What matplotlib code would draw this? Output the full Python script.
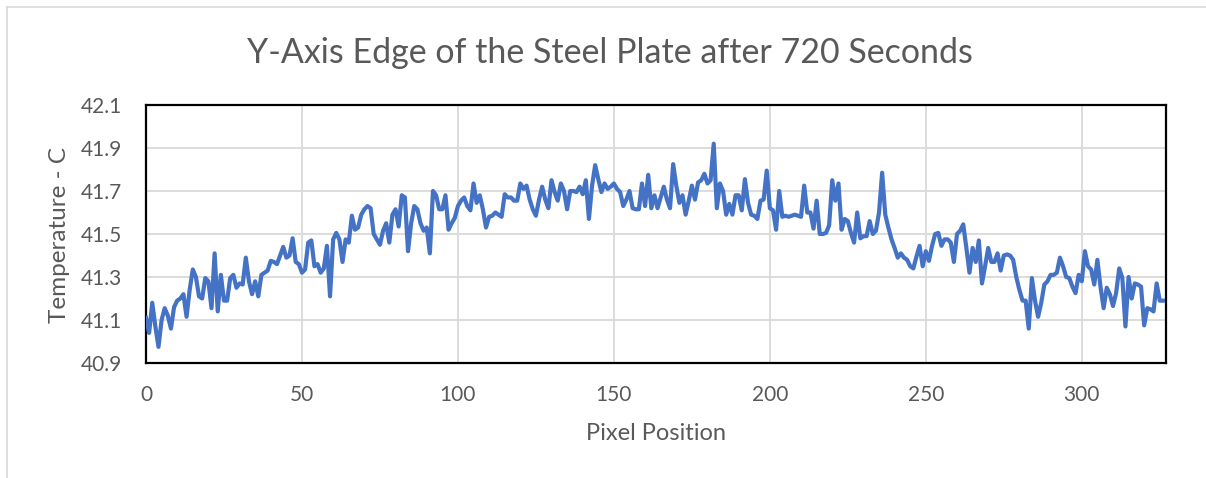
import numpy as np
import matplotlib.pyplot as plt
from matplotlib.lines import Line2D

# temperature readings along the Y-axis edge, one per pixel (0..326)
temps_000 = [41.11, 41.04, 41.18, 41.07, 40.975, 41.10, 41.155, 41.12, 41.06, 41.16,
             41.19, 41.20, 41.22, 41.115, 41.24, 41.335, 41.30, 41.21, 41.20, 41.295,
             41.28, 41.155, 41.41, 41.14, 41.31, 41.19, 41.19, 41.295, 41.31, 41.25,
             41.27, 41.265, 41.39, 41.28, 41.22, 41.28, 41.21, 41.31, 41.32, 41.33,
             41.375, 41.37, 41.36, 41.40, 41.44, 41.39, 41.40, 41.48, 41.37, 41.36,
             41.32, 41.335, 41.46, 41.47, 41.35, 41.36]
temps_056 = [41.32, 41.34, 41.445, 41.21, 41.475, 41.505, 41.475, 41.37, 41.475, 41.46,
             41.585, 41.52, 41.53, 41.59, 41.615, 41.63, 41.62, 41.50, 41.475, 41.45,
             41.515, 41.55, 41.46, 41.59, 41.615, 41.535, 41.68, 41.67, 41.42, 41.55,
             41.63, 41.615, 41.55, 41.515, 41.53, 41.41, 41.70, 41.68, 41.615, 41.615,
             41.68, 41.52, 41.55, 41.575, 41.63, 41.655, 41.67, 41.63, 41.61, 41.735,
             41.645, 41.68, 41.615, 41.53, 41.58]
temps_111 = [41.585, 41.60, 41.59, 41.58, 41.685, 41.67, 41.67, 41.655, 41.655, 41.735,
             41.71, 41.725, 41.66, 41.615, 41.585, 41.66, 41.72, 41.66, 41.62, 41.75,
             41.695, 41.655, 41.735, 41.70, 41.615, 41.70, 41.70, 41.695, 41.72, 41.685,
             41.75, 41.57, 41.725, 41.82, 41.755, 41.695, 41.735, 41.71, 41.72, 41.735,
             41.71, 41.695, 41.63, 41.66, 41.70, 41.62, 41.615, 41.615, 41.735, 41.63,
             41.775, 41.62, 41.68, 41.62]
temps_165 = [41.67, 41.72, 41.66, 41.62, 41.825, 41.725, 41.645, 41.68, 41.59, 41.655,
             41.725, 41.66, 41.74, 41.75, 41.78, 41.735, 41.75, 41.92, 41.62, 41.735,
             41.70, 41.59, 41.64, 41.59, 41.68, 41.68, 41.61, 41.755, 41.645, 41.59,
             41.585, 41.57, 41.655, 41.66, 41.795, 41.62, 41.61, 41.52, 41.70, 41.58,
             41.585, 41.58, 41.585, 41.59, 41.585, 41.58, 41.725, 41.60, 41.60, 41.525,
             41.655, 41.50, 41.50, 41.505]
temps_219 = [41.54, 41.75, 41.655, 41.735, 41.52, 41.57, 41.56, 41.505, 41.46, 41.60,
             41.48, 41.49, 41.49, 41.56, 41.50, 41.515, 41.60, 41.785, 41.59, 41.53,
             41.475, 41.435, 41.39, 41.41, 41.39, 41.38, 41.35, 41.34, 41.395, 41.445,
             41.35, 41.42, 41.375, 41.445, 41.50, 41.505, 41.445, 41.475, 41.475, 41.46,
             41.37, 41.50, 41.515, 41.545, 41.435, 41.32, 41.435, 41.37, 41.47, 41.27,
             41.35, 41.435, 41.37, 41.37, 41.41]
temps_274 = [41.33, 41.40, 41.405, 41.40, 41.38, 41.30, 41.24, 41.19, 41.19, 41.06,
             41.295, 41.19, 41.115, 41.18, 41.265, 41.28, 41.31, 41.31, 41.32, 41.39,
             41.35, 41.30, 41.295, 41.255, 41.225, 41.31, 41.28, 41.42, 41.35, 41.335,
             41.265, 41.38, 41.255, 41.155, 41.25, 41.22, 41.165, 41.225, 41.34, 41.295,
             41.07, 41.30, 41.20, 41.27, 41.265, 41.255, 41.075, 41.155, 41.15, 41.14,
             41.27, 41.19, 41.19]

x_ticks = [0, 50, 100, 150, 200, 250, 300]
y_ticks = [40.9, 41.1, 41.3, 41.5, 41.7, 41.9, 42.1]

temps = temps_000 + temps_056 + temps_111 + temps_165 + temps_219 + temps_274
pixels = np.arange(len(temps))

plt.rcParams['font.family'] = ['Lato', 'DejaVu Sans']
grey_text = '#595959'

W, H = 1206, 478
fig = plt.figure(figsize=(W / 100, H / 100), dpi=100)
ax = fig.add_axes([146 / W, 1 - 363 / H, 1020 / W, 258 / H])

ax.plot(pixels, temps, color='#4472C4', lw=3.0, solid_joinstyle='round', zorder=3)

ax.set_xlim(0, 327)
ax.set_ylim(40.9, 42.1)
ax.set_xticks(x_ticks)
ax.set_yticks(y_ticks)
ax.set_yticklabels([f'{v:.1f}' for v in y_ticks])
ax.grid(True, color='#d9d9d9', lw=1.3)
ax.set_axisbelow(True)
ax.tick_params(length=0, labelsize=15, labelcolor=grey_text)
ax.tick_params(axis='x', pad=16)
ax.tick_params(axis='y', pad=17)
for s in ax.spines.values():
    s.set_color('black')
    s.set_linewidth(1.6)

fig.text(610 / W, 1 - 63 / H, 'Y-Axis Edge of the Steel Plate after 720 Seconds',
         ha='center', va='baseline', fontsize=24.5, color=grey_text)
fig.text(656 / W, 1 - 433 / H, 'Pixel Position', ha='center', va='center',
         fontsize=17, color=grey_text)
fig.text(59 / W, 1 - 235 / H, 'Temperature - C', ha='center', va='center',
         rotation=90, fontsize=17.5, color=grey_text)

# chart area border
fig.add_artist(Line2D([7 / W, 1], [1 - 7 / H, 1 - 7 / H], color='#d9d9d9', lw=1.2))
fig.add_artist(Line2D([7 / W, 7 / W], [0, 1 - 7 / H], color='#d9d9d9', lw=1.2))

fig.savefig('out.png', dpi=100)
